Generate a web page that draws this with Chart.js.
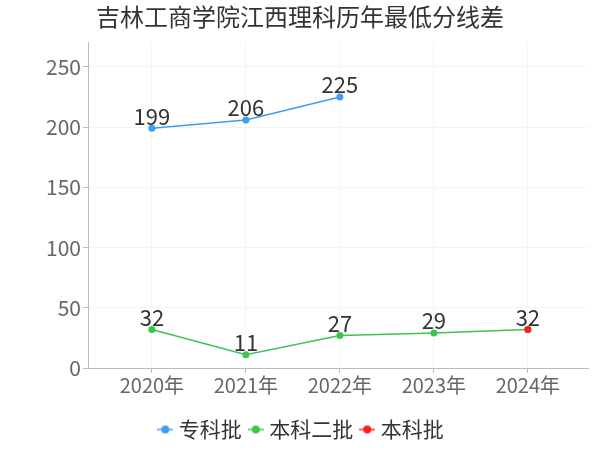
<!DOCTYPE html>
<html>
<head>
<meta charset="utf-8">
<script src="https://cdn.jsdelivr.net/npm/chart.js@4.4.0/dist/chart.umd.min.js"></script>
<style>
  html, body { margin: 0; padding: 0; background: #fff; }
  #wrap { width: 600px; height: 450px; }
</style>
</head>
<body>
<div id="wrap"><canvas id="chart_canvas" width="600" height="450"></canvas></div>
<script>
// data
const years      = [2020, 2021, 2022, 2023, 2024];
const zhuanke    = [199, 206, 225, null, null];   // 专科批
const benke2     = [32, 11, 27, 29, 32];          // 本科二批
const benke      = [null, null, null, null, 32];  // 本科批
const yTicks     = [0, 50, 100, 150, 200, 250];
const titleText  = "吉林工商学院江西理科历年最低分线差";
const FONT = "'Noto Sans CJK SC', 'Noto Sans', sans-serif";

function pts(values) {
  return years.map((y, i) => ({ x: y, y: values[i] }));
}

// little line-with-dot swatch for legend
function swatch(color) {
  const c = document.createElement("canvas");
  c.width = 16; c.height = 10;
  const g = c.getContext("2d");
  g.strokeStyle = color;
  g.globalAlpha = 0.7;
  g.lineWidth = 2;
  g.beginPath(); g.moveTo(0, 5); g.lineTo(16, 5); g.stroke();
  g.globalAlpha = 1;
  g.fillStyle = color;
  g.beginPath(); g.arc(8, 5, 4, 0, Math.PI * 2); g.fill();
  return c;
}

const labelPlugin = {
  id: "valueLabels",
  afterLayout(chart) {
    // legend swatches hang left of their boxes; nudge the row to sit centred
    if (chart.legend) { chart.legend.left += 3; chart.legend.right += 3; }
  },
  afterDatasetsDraw(chart) {
    const ctx = chart.ctx;
    const seen = new Set();
    ctx.save();
    ctx.font = "22px " + FONT;
    ctx.fillStyle = "#333";
    ctx.textAlign = "center";
    ctx.textBaseline = "bottom";
    chart.data.datasets.forEach((ds, di) => {
      const meta = chart.getDatasetMeta(di);
      meta.data.forEach((el, i) => {
        const v = ds.data[i].y;
        if (v == null) return;
        const key = Math.round(el.x) + "," + Math.round(el.y);
        if (seen.has(key)) return;   // overlapping points share one label
        seen.add(key);
        ctx.fillText(String(v), el.x, el.y - 1);
      });
    });
    ctx.restore();
  }
};

const colors = ["#3d9df5", "#3cc453", "#ff1c1c"];
const names  = ["专科批", "本科二批", "本科批"];
const series = [zhuanke, benke2, benke];
const orders = [1, 2, 0];

const context = document.getElementById("chart_canvas").getContext("2d");
new Chart(context, {
  type: "line",
  data: {
    datasets: series.map((s, i) => ({
      label: names[i],
      data: pts(s),
      order: orders[i],
      borderColor: colors[i],
      backgroundColor: colors[i],
      borderWidth: 1.5,
      pointRadius: 3.5,
      pointBorderWidth: 0,
      pointStyle: "circle",
      legendSwatch: swatch(colors[i]),
      spanGaps: false
    }))
  },
  options: {
    responsive: false,
    animation: false,
    layout: { padding: { left: 12, right: 12, top: 0, bottom: 0 } },
    plugins: {
      title: {
        display: true,
        text: titleText,
        color: "#333",
        font: { family: FONT, size: 24, weight: "normal" },
        padding: { top: 2, bottom: 12 }
      },
      legend: {
        position: "bottom",
        labels: {
          color: "#333",
          font: { family: FONT, size: 21 },
          usePointStyle: true,
          pointStyleWidth: 6,
          padding: 11,
          generateLabels(chart) {
            return chart.data.datasets.map((d, i) => ({
              text: d.label,
              fontColor: "#333",
              pointStyle: d.legendSwatch,
              datasetIndex: i,
              lineWidth: 0,
              hidden: false
            }));
          }
        }
      },
      tooltip: { enabled: false }
    },
    scales: {
      x: {
        type: "linear",
        min: 2019.32,
        max: 2024.64,
        afterFit(scale) { scale.height += 11; },
        grid: { color: "#f4f4f4", tickColor: "#bbb", tickLength: 5 },
        border: { color: "#bbb" },
        ticks: {
          stepSize: 1,
          includeBounds: false,
          color: "#666",
          font: { family: FONT, size: 20 },
          padding: 0,
          callback: v => Number.isInteger(v) ? v + "年" : ""
        }
      },
      y: {
        min: 0,
        max: 270,
        afterBuildTicks(scale) { scale.ticks = yTicks.map(v => ({ value: v })); },
        afterFit(scale) { scale.width = 76; },
        grid: { color: "#f4f4f4", tickColor: "#bbb", tickLength: 5 },
        border: { color: "#bbb" },
        ticks: {
          color: "#666",
          font: { family: FONT, size: 21 },
          padding: 2
        }
      }
    }
  },
  plugins: [labelPlugin]
});
</script>
</body>
</html>
